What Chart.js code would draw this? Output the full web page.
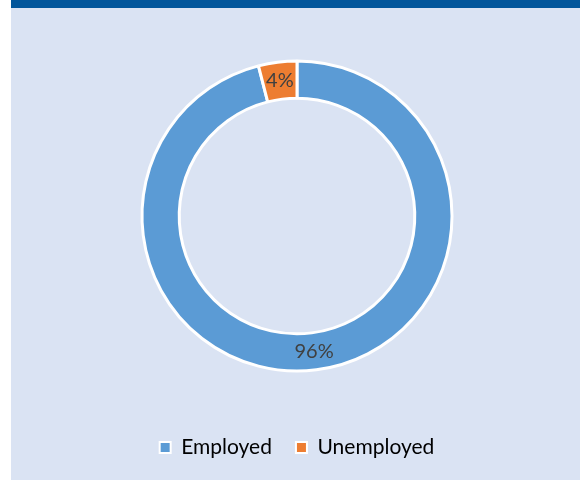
<!DOCTYPE html>
<html><head><meta charset="utf-8">
<script src="https://cdn.jsdelivr.net/npm/chart.js@4.4.1/dist/chart.umd.min.js"></script>
<style>
html,body{margin:0;padding:0;background:#ffffff;}
#panel{position:absolute;left:11px;top:0;width:569px;height:472px;background:#dae3f3;border-top:8px solid #02569b;}
#wrap{position:absolute;left:0;top:0;width:569px;height:472px;}
</style></head><body>
<div id="panel"><div id="wrap"><canvas id="c"></canvas></div></div>
<script>
const categories = ["Employed", "Unemployed"];
const values = [96, 4];
const colors = ["#5b9bd5", "#ed7d31"];

const labelPlugin = {
  id: 'sliceLabels',
  afterDatasetsDraw(chart) {
    const ctx = chart.ctx;
    const meta = chart.getDatasetMeta(0);
    const total = values.reduce((a, b) => a + b, 0);
    ctx.save();
    ctx.font = '20px Lato, "Open Sans", sans-serif';
    ctx.fillStyle = '#404040';
    ctx.textAlign = 'center';
    ctx.textBaseline = 'middle';
    meta.data.forEach((arc, i) => {
      const p = arc.tooltipPosition();
      ctx.fillText(Math.round(values[i] / total * 100) + '%', p.x, p.y);
    });
    ctx.restore();
  }
};

new Chart(document.getElementById('c'), {
  type: 'doughnut',
  data: {
    labels: categories,
    datasets: [{
      data: values,
      backgroundColor: colors,
      borderColor: '#ffffff',
      borderWidth: 3,
      hoverOffset: 0
    }]
  },
  options: {
    responsive: true,
    maintainAspectRatio: false,
    animation: false,
    cutout: '76%',
    radius: 155,
    layout: { padding: { top: 11, left: 3, right: 0, bottom: 12 } },
    plugins: {
      tooltip: { enabled: false },
      legend: {
        position: 'bottom',
        labels: {
          font: { size: 21, family: 'Lato, "Open Sans", sans-serif' },
          color: '#1a1a1a',
          boxWidth: 11,
          boxHeight: 11,
          padding: 24,
          generateLabels(chart) {
            return categories.map((c, i) => ({
              text: c,
              fillStyle: colors[i],
              strokeStyle: '#ffffff',
              lineWidth: 2,
              index: i,
              hidden: false
            }));
          }
        }
      }
    }
  },
  plugins: [labelPlugin]
});
</script>
</body></html>
